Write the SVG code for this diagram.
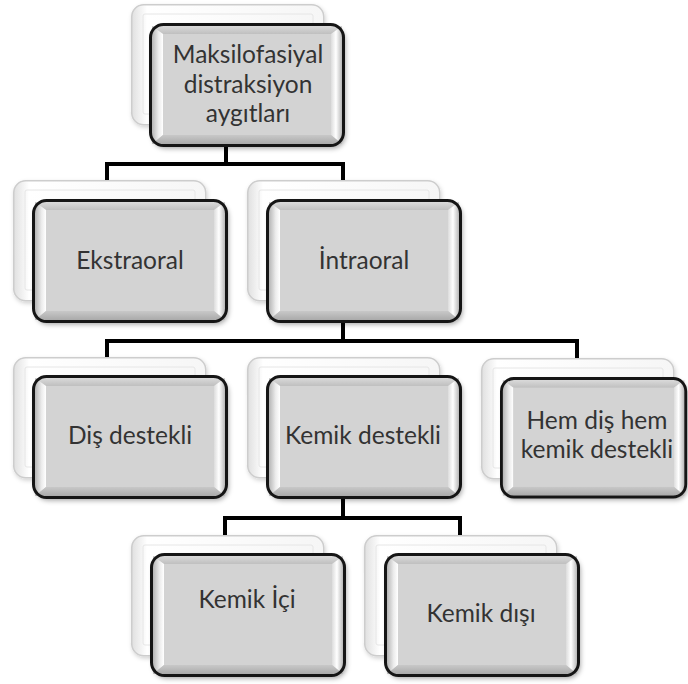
<svg xmlns="http://www.w3.org/2000/svg" xmlns:xlink="http://www.w3.org/1999/xlink" width="688" height="684" viewBox="0 0 688 684">
<style>
.lbl{font-family:Lato,"Open Sans","Liberation Sans",sans-serif;font-size:24.5px;fill:#333;text-anchor:middle}
.conn{fill:none;stroke:#000;stroke-width:4;stroke-linecap:square}
</style>
<defs>
<filter id="sh" x="-10%" y="-10%" width="125%" height="130%">
<feDropShadow dx="2" dy="3" stdDeviation="2.5" flood-color="#000" flood-opacity="0.35"/>
</filter>
<filter id="sh2" x="-10%" y="-10%" width="125%" height="130%">
<feDropShadow dx="1" dy="2" stdDeviation="2" flood-color="#000" flood-opacity="0.18"/>
</filter>
<linearGradient id="gTop" x1="0" y1="0" x2="0" y2="1"><stop offset="0" stop-color="#dadada"/><stop offset="1" stop-color="#bfbfbf"/></linearGradient>
<linearGradient id="gLeft" x1="0" y1="0" x2="1" y2="0"><stop offset="0" stop-color="#b5b5b5"/><stop offset="0.6" stop-color="#ececec"/><stop offset="1" stop-color="#ffffff"/></linearGradient>
<linearGradient id="gRight" x1="0" y1="0" x2="1" y2="0"><stop offset="0" stop-color="#dcdcdc"/><stop offset="0.45" stop-color="#ffffff"/><stop offset="1" stop-color="#b8b8b8"/></linearGradient>
<linearGradient id="gBot" x1="0" y1="0" x2="0" y2="1"><stop offset="0" stop-color="#c8c8c8"/><stop offset="1" stop-color="#aaaaaa"/></linearGradient>
<linearGradient id="gBack" x1="0" y1="0" x2="1" y2="0"><stop offset="0" stop-color="#e0e0e0"/><stop offset="0.08" stop-color="#ffffff"/><stop offset="1" stop-color="#f6f6f6"/></linearGradient>
<g id="front">
<rect x="1.5" y="1.5" width="193" height="121" rx="13" fill="#d0d0d0" filter="url(#sh)"/>
<polygon points="3,3 193,3 182,11 14,11" fill="url(#gTop)"/>
<polygon points="3,3 14,11 14,112 3,121" fill="url(#gLeft)"/>
<polygon points="193,3 182,11 182,112 193,121" fill="url(#gRight)"/>
<polygon points="3,121 14,112 182,112 193,121" fill="url(#gBot)"/>
<rect x="14" y="11" width="168" height="101" fill="#d3d3d3"/>
<rect x="1.5" y="1.5" width="193" height="121" rx="13" fill="none" stroke="#151515" stroke-width="3"/>
</g>
<g id="back">
<rect x="0.75" y="0.75" width="192" height="120" rx="12" fill="url(#gBack)" stroke="#cdcdcd" stroke-width="1.5" filter="url(#sh2)"/>
<rect x="12" y="10" width="170" height="100" rx="2" fill="none" stroke="#e6e6e6" stroke-width="1"/>
</g>
</defs>
<rect width="688" height="684" fill="#fff"/>
<g id="connectors">
<path class="conn" d="M226,147 V164 M107,164 H343 M107,164 V181 M343,164 V181"/>
<path class="conn" d="M343,323 V341 M107,341 H577 M107,341 V358 M577,341 V359"/>
<path class="conn" d="M343,498 V518 M225,518 H460 M225,518 V536 M460,518 V536"/>
</g>
<g id="n-root">
<use xlink:href="#back" x="131" y="4"/>
<use xlink:href="#front" x="149" y="23"/>
<text class="lbl" x="248" y="63">Maksilofasiyal</text>
<text class="lbl" x="248" y="93">distraksiyon</text>
<text class="lbl" x="248" y="122">aygıtları</text>
</g>
<g id="n-ekstraoral">
<use xlink:href="#back" x="13" y="180"/>
<use xlink:href="#front" x="32" y="199"/>
<text class="lbl" x="130" y="269">Ekstraoral</text>
</g>
<g id="n-intraoral">
<use xlink:href="#back" x="247" y="180"/>
<use xlink:href="#front" x="266" y="199"/>
<text class="lbl" x="364" y="269">İntraoral</text>
</g>
<g id="n-dis">
<use xlink:href="#back" x="13" y="357"/>
<use xlink:href="#front" x="32" y="375"/>
<text class="lbl" x="130" y="444">Diş destekli</text>
</g>
<g id="n-kemik">
<use xlink:href="#back" x="247" y="357"/>
<use xlink:href="#front" x="266" y="375"/>
<text class="lbl" x="363" y="444">Kemik destekli</text>
</g>
<g id="n-hem">
<use xlink:href="#back" x="481" y="358"/>
<use xlink:href="#front" transform="translate(500,377) scale(0.955,0.98)"/>
<text class="lbl" x="597" y="429">Hem diş hem</text>
<text class="lbl" x="597" y="458">kemik destekli</text>
</g>
<g id="n-ici">
<use xlink:href="#back" x="131" y="535"/>
<use xlink:href="#front" x="150" y="553"/>
<text class="lbl" x="247" y="608">Kemik İçi</text>
</g>
<g id="n-disi">
<use xlink:href="#back" x="364" y="535"/>
<use xlink:href="#front" x="384" y="553"/>
<text class="lbl" x="481" y="622">Kemik dışı</text>
</g>
</svg>
